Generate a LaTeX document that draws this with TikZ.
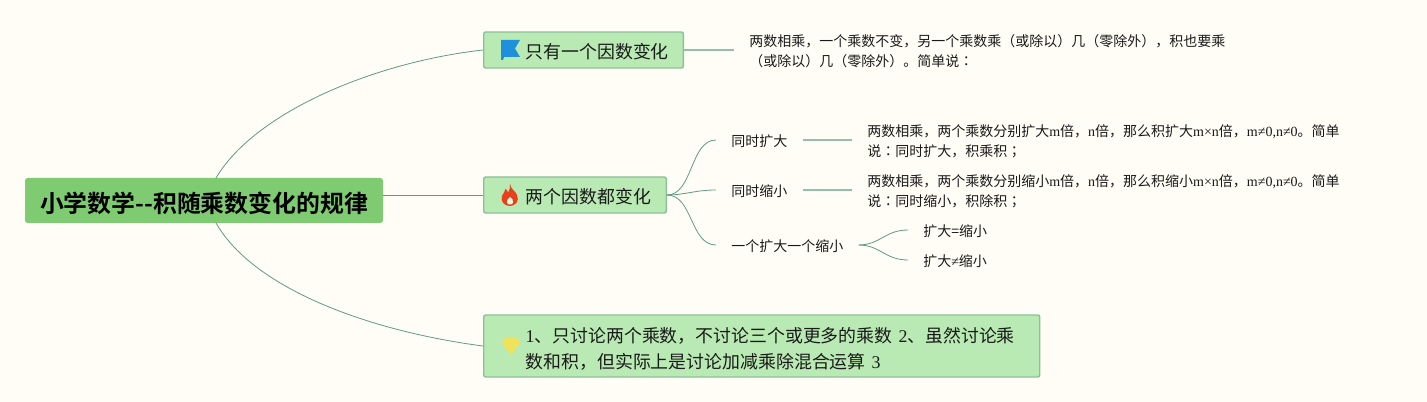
\documentclass[tikz,border=0pt]{standalone}
\usepackage{fontspec}
\setmainfont{Liberation Serif}
\newfontfamily\cjk{Noto Sans CJK SC}
\newfontfamily\cjkb{Noto Sans CJK SC Bold}
\newfontfamily\cjkp{Noto Sans CJK JP}
\newcommand{\zh}[1]{{\cjk #1}}
\newcommand{\pu}[1]{{\cjkp #1}}
\newcommand{\strutA}{\rule{0pt}{10.8pt}}
\newcommand{\strutB}{\rule{0pt}{11.5pt}}
\newcommand{\strutC}{\rule{0pt}{14pt}}
\newcommand{\strutD}{\rule{0pt}{15.5pt}}
\newcommand{\strutE}{\rule{0pt}{20pt}}
\definecolor{bg}{HTML}{FFFDF5}
\definecolor{rootfill}{HTML}{7FCB72}
\definecolor{boxfill}{HTML}{B9EAB3}
\definecolor{boxline}{HTML}{8DBF9B}
\definecolor{wire}{HTML}{5F9C84}
\definecolor{wirelight}{HTML}{94BFA8}
\definecolor{ink}{HTML}{1A1A1A}
\definecolor{flagblue}{HTML}{1E90DC}
\definecolor{firered}{HTML}{E8401C}
\definecolor{gemyellow}{HTML}{F0E25A}
\tikzset{
  rootbox/.style={draw=none,fill=rootfill,rounded corners=2pt,inner sep=0pt,minimum width=268.5pt,minimum height=33.75pt,font=\cjkb\fontsize{17.9pt}{22pt}\selectfont,text=black},
  branchbox/.style={draw=boxline,line width=1.1pt,fill=boxfill,rounded corners=1.5pt,inner ysep=0pt,inner xsep=9pt,minimum height=27pt,align=left,anchor=west,text=ink,font=\fontsize{13.42pt}{19.5pt}\selectfont},
  leaf/.style={anchor=west,inner xsep=11.25pt,inner ysep=0pt,align=left,text=ink,font=\fontsize{10.5pt}{15pt}\selectfont},
  wirecurve/.style={draw=wire,line width=0.6pt},
  wirestraight/.style={draw=wirelight,line width=1pt}
}
\begin{document}
\begin{tikzpicture}[x=0.75pt,y=-0.75pt]
\fill[bg] (0,0) rectangle (1427,402);
\useasboundingbox (0,0) rectangle (1427,402);

% root
\node[rootbox] (root) at (204,200.5) {\strutE 小学数学-{}-积随乘数变化的规律};

% main branches
\node[branchbox,text width=131.75pt] (b1) at (483,50) {\strutC\hspace*{22.5pt}\zh{只有一个因数变化}};
\node[branchbox,text width=118.9pt] (b2) at (483,195) {\strutC\hspace*{22.5pt}\zh{两个因数都变化}};
\node[branchbox,text width=399pt,minimum height=46.5pt] (b3) at (483,346) {\strutD\hspace*{22.5pt}1\zh{、只讨论两个乘数，不讨论三个或更多的乘数} 2\zh{、虽然讨论乘}\\\hspace*{22.5pt}\zh{数和积，但实际上是讨论加减乘除混合运算} 3};

% icons
\fill[flagblue] (501,40) -- (520,40) -- (515,48.5) -- (520,57) -- (504,57) -- (503,60) -- (501,60) -- cycle;
\fill[firered] (510,184) .. controls (511,190) and (515,190) .. (517,195) .. controls (520,201) and (515,206) .. (510,206) .. controls (505,206) and (500,202) .. (502,196) .. controls (503,193) and (505,192) .. (505.5,189) .. controls (507,190) and (508,191) .. (508,193) .. controls (510,190) and (510,187) .. (510,184) -- cycle;
\fill[boxfill!40!white] (510,197) .. controls (512,199) and (514,200) .. (513,203) .. controls (512,205) and (508,205) .. (507,203) .. controls (506,200) and (508,199) .. (510,197) -- cycle;
\fill[gemyellow] (505,338) -- (517,338) -- (520,343) -- (511,355) -- (502,343) -- cycle;

% second level
\node[leaf] (s1) at (716,140) {\strutA\zh{同时扩大}};
\node[leaf] (s2) at (716,190) {\strutA\zh{同时缩小}};
\node[leaf] (s3) at (716,245) {\strutA\zh{一个扩大一个缩小}};

% detail texts
\node[leaf] (d0) at (734,50) {\strutB\zh{两数相乘，一个乘数不变，另一个乘数乘（或除以）几（零除外），积也要乘}\\\zh{（或除以）几（零除外）。简单说}\pu{：}};
\node[leaf] (d1) at (852,140) {\strutB\zh{两数相乘，两个乘数分别扩大}m\zh{倍，}n\zh{倍，那么积扩大}m×n\zh{倍，}m≠0,n≠0\zh{。简单}\\\zh{说}\pu{：}\zh{同时扩大，积乘积}\pu{；}};
\node[leaf] (d2) at (852,190) {\strutB\zh{两数相乘，两个乘数分别缩小}m\zh{倍，}n\zh{倍，那么积缩小}m×n\zh{倍，}m≠0,n≠0\zh{。简单}\\\zh{说}\pu{：}\zh{同时缩小，积除积}\pu{；}};
\node[leaf] (t1) at (908,230) {\strutA\zh{扩大=缩小}};
\node[leaf] (t2) at (908,260) {\strutA\zh{扩大}≠\zh{缩小}};

% connectors
\coordinate (rt) at (216,178);
\coordinate (rb) at (216,223);
\draw[wirecurve] (rt) .. controls (255,112) and (375,62) .. (b1.west);
\draw[wirecurve] (root.east |- b2.west) -- (b2.west);
\draw[wirecurve] (rb) .. controls (255,291) and (375,332) .. (b3.west);
\draw[wirestraight] (b1.east) -- (d0.west);
\draw[wirecurve] (b2.east) .. controls (693,195) and (690,140) .. (s1.west);
\draw[wirecurve] (b2.east) .. controls (685,195) and (695,190) .. (s2.west);
\draw[wirecurve] (b2.east) .. controls (693,195) and (690,245) .. (s3.west);
\draw[wirestraight] (s1.east) -- (d1.west);
\draw[wirestraight] (s2.east) -- (d2.west);
\draw[wirecurve] (s3.east) .. controls (880,245) and (885,230) .. (t1.west);
\draw[wirecurve] (s3.east) .. controls (880,245) and (885,260) .. (t2.west);
\end{tikzpicture}
\end{document}
